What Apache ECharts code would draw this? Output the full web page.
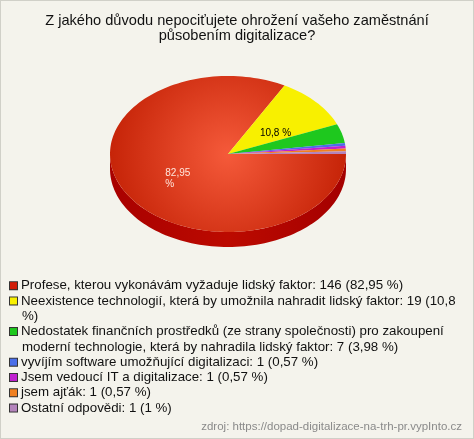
<!DOCTYPE html>
<html>
<head>
<meta charset="utf-8">
<script src="https://cdn.jsdelivr.net/npm/echarts@6/dist/echarts.min.js"></script>
<style>
    html, body { margin: 0; padding: 0; background: #f4f3ec; }
    #main { width: 472px; height: 437px; border: 1px solid #d0d0c8; background: #f4f3ec; }
</style>
</head>
<body>
<div id="main"></div>
<script>
// data
var categories = [
    'Profese, kterou vykonávám vyžaduje lidský faktor',
    'Neexistence technologií, která by umožnila nahradit lidský faktor',
    'Nedostatek finančních prostředků (ze strany společnosti) pro zakoupení moderní technologie, která by nahradila lidský faktor',
    'vyvíjím software umožňující digitalizaci',
    'Jsem vedoucí IT a digitalizace',
    'jsem ajťák',
    'Ostatní odpovědi'
];
var counts = [146, 19, 7, 1, 1, 1, 1];
var percents = ['82,95', '10,8', '3,98', '0,57', '0,57', '0,57', '1'];

// styles
var colors = ['#d21e0a', '#f8f000', '#1ec81e', '#4a6ee8', '#c020d0', '#f08020', '#b484bc'];
var labelColors = ['#ffe6dc', '#000000'];

// pie geometry (pixels)
var cx = 227, cy = 153, rx = 118, ry = 78, depth = 15;

var total = 0;
for (var k = 0; k < counts.length; k++) total += counts[k];

// angles ccw in degrees, slices drawn clockwise from east
function sliceRange(i) {
    var before = 0;
    for (var k = 0; k < i; k++) before += counts[k];
    var a2 = 360 - before / total * 360;
    var a1 = 360 - (before + counts[i]) / total * 360;
    return [a1, a2];
}

function arc(a1, a2, dy) {
    var pts = [];
    var n = Math.max(2, Math.ceil((a2 - a1) / 2));
    for (var k = 0; k <= n; k++) {
        var a = (a1 + (a2 - a1) * k / n) * Math.PI / 180;
        pts.push([cx + rx * Math.cos(a), cy - ry * Math.sin(a) + dy]);
    }
    return pts;
}

function topFill(i) {
    if (i === 0) {
        return new echarts.graphic.RadialGradient(cx, cy, rx, [
            { offset: 0, color: '#f55a3a' },
            { offset: 1, color: '#c62408' }
        ], true);
    }
    return colors[i];
}

function drawSlice(i) {
    var r = sliceRange(i);
    var children = [];
    // side wall (front half only)
    var w1 = Math.max(r[0], 180), w2 = Math.min(r[1], 360);
    if (w2 > w1) {
        var upper = arc(w1, w2, 0);
        var lower = arc(w1, w2, depth).reverse();
        children.push({
            type: 'polygon',
            shape: { points: upper.concat(lower) },
            style: {
                fill: i === 0 ? new echarts.graphic.LinearGradient(cx - rx, 0, cx + rx, 0, [
                    { offset: 0, color: '#a80000' },
                    { offset: 0.5, color: '#bc0a00' },
                    { offset: 1, color: '#a40000' }
                ], true) : colors[i]
            },
            z2: 1
        });
    }
    // top face
    children.push({
        type: 'polygon',
        shape: { points: [[cx, cy]].concat(arc(r[0], r[1], 0)) },
        style: { fill: topFill(i) },
        z2: 2
    });
    // label for big slices
    if (counts[i] / total > 0.05) {
        var mid = (r[0] + r[1]) / 2 * Math.PI / 180;
        children.push({
            type: 'text',
            x: cx + 0.5 * rx * Math.cos(mid) - 12,
            y: cy - 0.5 * ry * Math.sin(mid) + 5,
            style: {
                text: percents[i] + ' %',
                fill: labelColors[i] || '#000',
                font: '10px "Liberation Sans", Arial, sans-serif',
                width: 34,
                overflow: 'break',
                align: 'left',
                verticalAlign: 'middle',
                lineHeight: 11
            },
            z2: 3
        });
    }
    return { type: 'group', children: children };
}

// legend word wrap with hanging indent
var measureCtx = document.createElement('canvas').getContext('2d');
var legendFont = '13.3px "Liberation Sans"';
measureCtx.font = legendFont;
var wrapWidth = 440;

function legendText(name) {
    var i = categories.indexOf(name);
    var text = name + ': ' + counts[i] + ' (' + percents[i] + ' %)';
    var words = text.split(' ');
    var lines = [], line = '';
    for (var k = 0; k < words.length; k++) {
        var test = line ? line + ' ' + words[k] : words[k];
        if (line && measureCtx.measureText(test).width > wrapWidth) {
            lines.push(line);
            line = words[k];
        } else {
            line = test;
        }
    }
    lines.push(line);
    var out = '{m' + i + '|}{g|}' + lines[0];
    for (var j = 1; j < lines.length; j++) out += '\n{ind|}' + lines[j];
    return out;
}

var rich = { g: { width: 4, lineHeight: 15.3 }, ind: { width: 12, lineHeight: 15.3 } };
for (var c = 0; c < colors.length; c++) {
    rich['m' + c] = {
        width: 7, height: 7, lineHeight: 15.3,
        backgroundColor: colors[c], borderColor: '#333', borderWidth: 1
    };
}

var option = {
    backgroundColor: '#f4f3ec',
    animation: false,
    title: [{
        text: 'Z jakého důvodu nepociťujete ohrožení vašeho zaměstnání\npůsobením digitalizace?',
        left: 'center',
        top: 12,
        padding: 0,
        textStyle: {
            fontFamily: 'Liberation Sans',
            fontSize: 14.6,
            fontWeight: 'normal',
            color: '#111',
            lineHeight: 15
        }
    }, {
        text: 'zdroj: https://dopad-digitalizace-na-trh-pr.vypInto.cz',
        right: 11,
        top: 420,
        padding: 0,
        textStyle: {
            fontFamily: 'Liberation Sans',
            fontSize: 11.5,
            fontWeight: 'normal',
            color: '#8a8a8a'
        }
    }],
    legend: {
        orient: 'vertical',
        left: 4,
        top: 277,
        padding: 0,
        itemGap: 0,
        itemWidth: 0,
        itemHeight: 7,
        icon: 'none',
        selectedMode: false,
        data: categories,
        formatter: legendText,
        textStyle: {
            fontFamily: 'Liberation Sans',
            fontSize: 13.3,
            color: '#111',
            lineHeight: 15.3,
            rich: rich
        }
    },
    series: categories.map(function (name, i) {
        return {
            type: 'custom',
            name: name,
            coordinateSystem: 'none',
            silent: true,
            itemStyle: { color: colors[i] },
            data: [counts[i]],
            renderItem: function () { return drawSlice(i); }
        };
    })
};

var myChart = echarts.init(document.getElementById('main'));
myChart.setOption(option);
</script>
</body>
</html>
